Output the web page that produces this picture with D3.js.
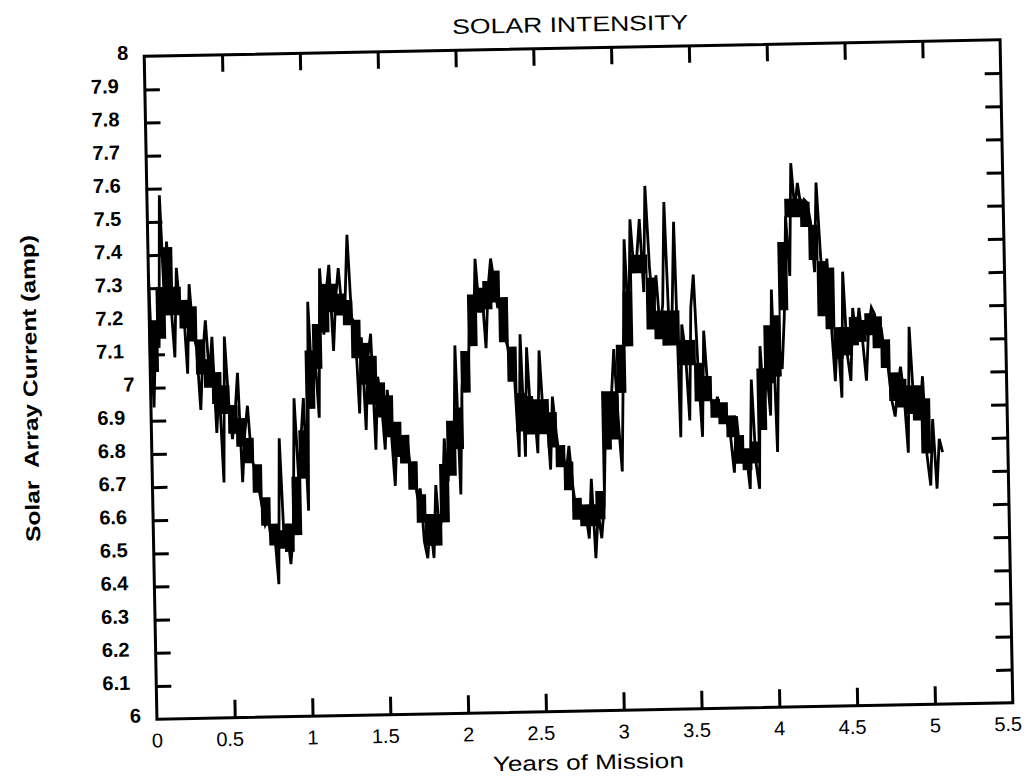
<!DOCTYPE html>
<html><head><meta charset="utf-8">
<script src="https://cdn.jsdelivr.net/npm/d3@7"></script>
<style>body{margin:0;background:#fff}svg{display:block}</style>
</head><body>
<svg id="chart" width="1036" height="779"></svg>
<script>
// ---- data ----
const chartTitle = "SOLAR INTENSITY";
const xTitle = "Years of Mission";
const yTitle = "Solar  Array Current (amp)";
const xTickValues = [0, 0.5, 1, 1.5, 2, 2.5, 3, 3.5, 4, 4.5, 5, 5.5];
const xTickLabels = ["0", "0.5", "1", "1.5", "2", "2.5", "3", "3.5", "4", "4.5", "5", "5.5"];
const yTickValues = [6, 6.1, 6.2, 6.3, 6.4, 6.5, 6.6, 6.7, 6.8, 6.9, 7, 7.1, 7.2, 7.3, 7.4, 7.5, 7.6, 7.7, 7.8, 7.9, 8];
const yTickLabels = ["6", "6.1", "6.2", "6.3", "6.4", "6.5", "6.6", "6.7", "6.8", "6.9", "7", "7.1", "7.2", "7.3", "7.4", "7.5", "7.6", "7.7", "7.8", "7.9", "8"];

// solar array current trace (with spikes), first sample at year 0, one sample every 0.02 year
const sampleStartYear = 0;
const sampleStepYears = 0.02;
const currentAmps = [
 7.34, 6.94, 7.18, 7.12, 7.58,  7.25, 7.44, 7.26, 7.09, 7.36,
 7.22, 7.25, 7.04, 7.31, 7.16,  7.12, 6.93, 7.10, 7.20, 7.03,
 7.15, 6.86, 7.00, 6.71, 7.15,  6.95, 6.84, 6.92, 7.04, 6.71,
 6.86, 6.94, 6.78, 6.75, 6.70,  6.64, 6.58, 6.60, 6.52, 6.55,
 6.40, 6.84, 6.52, 6.56, 6.46,  6.56, 6.96, 6.72, 6.84, 6.96,
 6.62, 7.25, 6.98, 7.08, 6.90,  7.35, 7.15, 7.28, 7.36, 7.10,
 7.26, 7.35, 7.22, 7.25, 7.45,  7.20, 7.18, 6.91, 7.14, 6.86,
 7.08, 7.15, 6.80, 7.02, 6.95,  6.80, 6.98, 6.86, 6.69, 6.88,
 6.82, 6.78, 6.84, 6.74, 6.72,  6.66, 6.68, 6.52, 6.47, 6.58,
 6.47, 6.69, 6.54, 6.62, 6.83,  6.70, 6.86, 6.76, 7.11, 6.66,
 6.98, 7.08, 7.00, 7.21, 7.12,  7.37, 7.22, 7.27, 7.10, 7.28,
 7.37, 7.30, 7.22, 7.25, 7.14,  7.10, 7.02, 7.00, 6.77, 7.14,
 6.77, 7.10, 6.88, 6.94, 6.78,  7.09, 6.88, 6.92, 6.73, 6.95,
 6.84, 6.76, 6.78, 6.72, 6.80,  6.68, 6.60, 6.62, 6.56, 6.60,
 6.52, 6.70, 6.46, 6.60, 6.52,  6.62, 6.90, 6.80, 6.95, 7.09,
 6.88, 6.72, 7.05, 7.42, 7.15,  7.48, 7.32, 7.37, 7.48, 7.26,
 7.58, 7.33, 7.20, 7.31, 7.15,  7.22, 7.53, 7.12, 7.20, 7.47,
 6.82, 7.16, 7.08, 6.87, 7.21,  7.31, 7.02, 6.82, 7.14, 6.96,
 6.93, 6.89, 6.94, 6.88, 6.92,  6.86, 6.82, 6.71, 6.88, 6.76,
 6.74, 6.76, 6.66, 6.99, 6.74,  6.66, 7.09, 6.90, 7.02, 6.88,
 7.26, 6.77, 7.10, 7.02, 7.18,  7.48, 7.30, 7.64, 7.50, 7.58,
 7.51, 7.53, 7.52, 7.46, 7.31,  7.58, 7.36, 7.22, 7.35, 7.16,
 6.98, 7.14, 6.93, 7.31, 7.06,  6.98, 7.20, 7.10, 7.20, 7.10,
 6.98, 7.14, 7.20, 7.18, 7.10,  7.14, 7.06, 7.02, 6.92, 6.87,
 6.96, 7.02, 6.93, 6.76, 7.14,  6.92, 6.96, 6.88, 6.99, 6.75,
 6.66, 6.86, 6.65, 6.80, 6.76
];

// dense day-to-day band (low / high envelope), one bin every 0.05 year from year 0
const bandStartYear = 0;
const bandStepYears = 0.05;
const bandLow = [
 7.05, 7.15, 7.22, 7.22, 7.18, 7.14, 7.04, 7.00, 6.95, 6.92,
 6.86, 6.82, 6.77, 6.68, 6.58, 6.52, 6.51, 6.50, 6.55, 6.72,
 6.93, 7.05, 7.16, 7.22, 7.21, 7.18, 7.08, 7.00, 6.94, 6.90,
 6.84, 6.78, 6.76, 6.68, 6.58, 6.51, 6.51, 6.58, 6.72, 6.80,
 6.97, 7.11, 7.21, 7.22, 7.24, 7.12, 7.00, 6.85, 6.84, 6.84,
 6.84, 6.80, 6.74, 6.67, 6.58, 6.56, 6.56, 6.58, 6.79, 6.82,
 6.96, 7.10, 7.32, 7.32, 7.15, 7.12, 7.10, 7.10, 7.04, 7.04,
 6.93, 6.93, 6.88, 6.86, 6.82, 6.74, 6.72, 6.74, 6.84, 6.98,
 7.00, 7.20, 7.48, 7.48, 7.45, 7.35, 7.18, 7.14, 7.05, 7.06,
 7.09, 7.10, 7.12, 7.08, 7.02, 6.92, 6.90, 6.88, 6.86, 6.76,
 6.76
];
const bandHigh = [
 7.20, 7.30, 7.42, 7.30, 7.26, 7.24, 7.14, 7.08, 7.04, 7.00,
 6.94, 6.90, 6.84, 6.76, 6.66, 6.58, 6.56, 6.58, 6.72, 6.86,
 7.10, 7.18, 7.30, 7.30, 7.27, 7.25, 7.19, 7.12, 7.08, 7.00,
 6.96, 6.88, 6.84, 6.76, 6.66, 6.60, 6.60, 6.75, 6.88, 6.92,
 7.09, 7.26, 7.28, 7.30, 7.33, 7.25, 7.10, 6.96, 6.95, 6.94,
 6.94, 6.90, 6.80, 6.75, 6.64, 6.62, 6.62, 6.66, 6.96, 6.96,
 7.10, 7.26, 7.37, 7.37, 7.30, 7.20, 7.20, 7.20, 7.11, 7.11,
 7.04, 7.00, 6.93, 6.92, 6.88, 6.82, 6.78, 6.80, 7.02, 7.15,
 7.18, 7.40, 7.53, 7.53, 7.52, 7.45, 7.34, 7.32, 7.14, 7.14,
 7.17, 7.16, 7.18, 7.17, 7.10, 7.00, 6.98, 6.96, 6.96, 6.92,
 6.86
];

// ---- layout ----
const L = 150.5, R = 1006.5, T = 48, B = 711;
const rotCx = 578.5, rotCy = 379.5, rotDeg = -1.1;
const FONT = "'Liberation Sans', Arial, sans-serif";

const svg = d3.select("#chart");
svg.append("rect").attr("width", 1036).attr("height", 779).attr("fill", "#fff");
const g = svg.append("g").attr("transform", `rotate(${rotDeg},${rotCx},${rotCy})`);

const x = d3.scaleLinear().domain([0, 5.5]).range([L, R]);
const y = d3.scaleLinear().domain([6, 8]).range([B, T]);

const series = currentAmps.map((v, i) => ({ t: sampleStartYear + i * sampleStepYears, v }));
const band = bandLow.map((lo, i) => ({ t: bandStartYear + i * bandStepYears, lo, hi: bandHigh[i] }));

// dense band
g.append("path")
  .datum(band)
  .attr("fill", "#000")
  .attr("stroke", "#000")
  .attr("stroke-width", 2)
  .attr("d", d3.area().curve(d3.curveStepAfter)
    .x(d => x(d.t)).y0(d => y(d.lo)).y1(d => y(d.hi)));

// data trace
g.append("path")
  .datum(series)
  .attr("fill", "none")
  .attr("stroke", "#000")
  .attr("stroke-width", 2.8)
  .attr("stroke-linejoin", "miter")
  .attr("d", d3.line().x(d => x(d.t)).y(d => y(d.v)));

// axes: inward ticks on all four sides
const innerY = yTickValues.slice(1, -1);
const innerX = xTickValues.slice(1, -1);
function styleAxis(sel) {
  sel.select(".domain").remove();
  sel.selectAll(".tick line").attr("stroke", "#000").attr("stroke-width", 3);
  sel.selectAll(".tick text").remove();
}
g.append("g").attr("transform", `translate(${L},0)`)
  .call(d3.axisLeft(y).tickValues(innerY).tickSize(-15)).call(styleAxis);
g.append("g").attr("transform", `translate(${R},0)`)
  .call(d3.axisRight(y).tickValues(innerY).tickSize(-16)).call(styleAxis);
g.append("g").attr("transform", `translate(0,${B})`)
  .call(d3.axisBottom(x).tickValues(innerX).tickSize(-18)).call(styleAxis);
g.append("g").attr("transform", `translate(0,${T})`)
  .call(d3.axisTop(x).tickValues(innerX).tickSize(-17)).call(styleAxis);

// frame
g.append("rect").attr("x", L).attr("y", T).attr("width", R - L).attr("height", B - T)
  .attr("fill", "none").attr("stroke", "#000").attr("stroke-width", 3);

// y tick labels
g.append("g").selectAll("text").data(yTickValues).join("text")
  .attr("x", d => Number.isInteger(d) ? L - 16 : L - 26)
  .attr("y", d => y(d) - 4)
  .attr("dy", "0.36em")
  .attr("text-anchor", "end")
  .attr("font-family", FONT).attr("font-size", 20).attr("font-weight", "bold")
  .text((d, i) => yTickLabels[i]);

// x tick labels
g.append("g").selectAll("text").data(xTickValues).join("text")
  .attr("x", d => Number.isInteger(d) ? x(d) : x(d) - 5)
  .attr("y", B + 21)
  .attr("dy", "0.36em")
  .attr("text-anchor", "middle")
  .attr("font-family", FONT).attr("font-size", 20)
  .text((d, i) => xTickLabels[i]);

// titles
g.append("text").attr("x", 577).attr("y", 24).attr("dy", "0.36em")
  .attr("text-anchor", "middle").attr("font-family", FONT).attr("font-size", 21)
  .attr("textLength", 236).attr("lengthAdjust", "spacingAndGlyphs")
  .text(chartTitle);
g.append("text").attr("x", 581).attr("y", 762).attr("dy", "0.36em")
  .attr("text-anchor", "middle").attr("font-family", FONT).attr("font-size", 21)
  .attr("textLength", 191).attr("lengthAdjust", "spacingAndGlyphs")
  .text(xTitle);
g.append("text")
  .attr("transform", "translate(30,378) rotate(-90)")
  .attr("dy", "0.36em")
  .attr("text-anchor", "middle").attr("font-family", FONT).attr("font-size", 20).attr("font-weight", "bold")
  .attr("textLength", 307).attr("lengthAdjust", "spacingAndGlyphs")
  .style("white-space", "pre")
  .text(yTitle);
</script>
</body></html>
